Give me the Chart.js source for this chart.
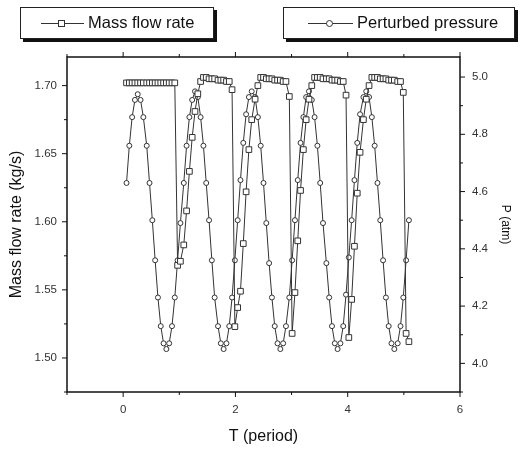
<!DOCTYPE html>
<html>
<head>
<meta charset="utf-8">
<script src="https://cdn.jsdelivr.net/npm/chart.js"></script>
<style>
  body { margin: 0; background: #fff; }
  #wrap { position: relative; width: 528px; height: 450px; font-family: "Liberation Sans", Arial, sans-serif; }
  #chart { position: absolute; left: 0; top: 0; }
  .lg { position: absolute; top: 7px; height: 30px; border: 1px solid #222; background: #fff; box-shadow: 3px 3px 0 #111; }
  .lg .ln { position: absolute; top: 15px; height: 0; border-top: 1px solid #333; }
  .lg .sq { position: absolute; top: 12px; width: 5px; height: 5px; border: 1px solid #333; background: #fff; }
  .lg .ci { position: absolute; top: 12px; width: 5px; height: 5px; border: 1px solid #333; border-radius: 50%; background: #fff; }
  .lg .tx { position: absolute; top: 5px; font-size: 16.5px; color: #111; white-space: nowrap; }
</style>
</head>
<body>
<div id="wrap">
  <canvas id="chart" width="528" height="450"></canvas>
  <div class="lg" style="left:20px;width:192px;">
    <div class="ln" style="left:20px;width:43px;"></div>
    <div class="sq" style="left:37px;"></div>
    <div class="tx" style="left:67px;">Mass flow rate</div>
  </div>
  <div class="lg" style="left:283px;width:230px;">
    <div class="ln" style="left:24px;width:45px;"></div>
    <div class="ci" style="left:42px;"></div>
    <div class="tx" style="left:73px;">Perturbed pressure</div>
  </div>
</div>
<script>
// T (period) of each sample
const T = [
  0.06, 0.11, 0.16, 0.21, 0.26, 0.31, 0.36, 0.42, 0.47, 0.52, 0.57, 0.62, 0.67, 0.72, 0.77, 0.82, 0.87, 0.92, 0.97, 1.02,
  1.08, 1.13, 1.18, 1.23, 1.28, 1.33, 1.38, 1.43, 1.48, 1.53, 1.58, 1.63, 1.69, 1.74, 1.79, 1.84, 1.89, 1.94, 1.99, 2.04,
  2.09, 2.14, 2.19, 2.24, 2.29, 2.35, 2.40, 2.45, 2.50, 2.55, 2.60, 2.65, 2.70, 2.75, 2.80, 2.85, 2.90, 2.96, 3.01, 3.06,
  3.11, 3.16, 3.21, 3.26, 3.31, 3.36, 3.41, 3.46, 3.51, 3.56, 3.62, 3.67, 3.72, 3.77, 3.82, 3.87, 3.92, 3.97, 4.02, 4.07,
  4.12, 4.17, 4.22, 4.28, 4.33, 4.38, 4.43, 4.48, 4.53, 4.58, 4.63, 4.68, 4.73, 4.78, 4.83, 4.89, 4.94, 4.99, 5.04, 5.09
];

// mass flow rate (kg/s)
const massFlow = [
  1.702, 1.702, 1.702, 1.702, 1.702, 1.702, 1.702, 1.702, 1.702, 1.702, 1.702, 1.702, 1.702, 1.702, 1.702, 1.702, 1.702, 1.702, 1.568, 1.571,
  1.583, 1.608, 1.637, 1.662, 1.681, 1.694, 1.703, 1.706, 1.706, 1.705, 1.705, 1.705, 1.704, 1.704, 1.704, 1.703, 1.703, 1.697, 1.523, 1.537,
  1.549, 1.584, 1.622, 1.653, 1.675, 1.690, 1.700, 1.706, 1.706, 1.705, 1.705, 1.705, 1.704, 1.704, 1.704, 1.703, 1.703, 1.692, 1.518, 1.548,
  1.586, 1.623, 1.653, 1.675, 1.690, 1.700, 1.706, 1.706, 1.706, 1.705, 1.705, 1.705, 1.704, 1.704, 1.704, 1.703, 1.703, 1.693, 1.515, 1.543,
  1.582, 1.621, 1.651, 1.675, 1.690, 1.700, 1.706, 1.706, 1.706, 1.705, 1.705, 1.705, 1.704, 1.704, 1.704, 1.703, 1.703, 1.695, 1.518, 1.512
];

// perturbed pressure (atm)
const pressure = [
  4.63, 4.76, 4.86, 4.92, 4.94, 4.92, 4.86, 4.76, 4.63, 4.50, 4.36, 4.23, 4.13, 4.07, 4.05, 4.07, 4.13, 4.23, 4.36, 4.49,
  4.63, 4.76, 4.86, 4.92, 4.95, 4.93, 4.86, 4.76, 4.63, 4.50, 4.36, 4.23, 4.13, 4.07, 4.05, 4.07, 4.13, 4.23, 4.36, 4.50,
  4.64, 4.77, 4.87, 4.93, 4.95, 4.93, 4.86, 4.76, 4.63, 4.49, 4.35, 4.23, 4.13, 4.07, 4.05, 4.07, 4.13, 4.23, 4.36, 4.50,
  4.64, 4.77, 4.86, 4.93, 4.95, 4.92, 4.86, 4.76, 4.63, 4.49, 4.35, 4.23, 4.13, 4.07, 4.05, 4.07, 4.13, 4.24, 4.37, 4.50,
  4.64, 4.77, 4.87, 4.93, 4.95, 4.93, 4.86, 4.76, 4.63, 4.50, 4.36, 4.23, 4.13, 4.07, 4.05, 4.07, 4.13, 4.23, 4.36, 4.50
];

const tTicks = [0, 2, 4, 6];
const massTicks = [1.50, 1.55, 1.60, 1.65, 1.70];
const pressTicks = [4.0, 4.2, 4.4, 4.6, 4.8, 5.0];

const tickFont = { family: '"Liberation Sans", Arial, sans-serif', size: 11.5 };
const titleFont = { family: '"Liberation Sans", Arial, sans-serif', size: 16, lineHeight: 1 };

// frame + inward/outward tick marks like the original plot
const framePlugin = {
  id: 'frame',
  afterDraw(chart) {
    const { ctx, chartArea: a, scales } = chart;
    ctx.save();
    ctx.strokeStyle = '#111';
    ctx.lineWidth = 1.5;
    ctx.strokeRect(a.left, a.top, a.right - a.left, a.bottom - a.top);
    ctx.lineWidth = 1;
    ctx.beginPath();
    for (let v = -1; v <= 6; v++) {
      const px = scales.x.getPixelForValue(v);
      const len = v % 2 === 0 ? 5 : 3;
      ctx.moveTo(px, a.bottom); ctx.lineTo(px, a.bottom + len);
      ctx.moveTo(px, a.top); ctx.lineTo(px, a.top - len);
    }
    for (let v = 1.475; v < 1.72; v += 0.025) {
      const py = scales.y.getPixelForValue(v);
      const major = Math.abs(Math.round(v * 20) - v * 20) < 0.01;
      ctx.moveTo(a.left, py); ctx.lineTo(a.left - (major ? 5 : 3), py);
    }
    for (let v = 3.9; v < 5.06; v += 0.1) {
      const py = scales.y1.getPixelForValue(v);
      const major = Math.abs(Math.round(v * 5) - v * 5) < 0.01;
      ctx.moveTo(a.right, py); ctx.lineTo(a.right + (major ? 5 : 3), py);
    }
    ctx.stroke();
    ctx.restore();
  }
};

const ctx = document.getElementById('chart').getContext('2d');
new Chart(ctx, {
  type: 'line',
  data: {
    datasets: [{
      label: 'Mass flow rate',
      data: T.map((t, i) => ({ x: t, y: massFlow[i] })),
      yAxisID: 'y',
      borderColor: '#333',
      borderWidth: 1,
      pointStyle: 'rect',
      pointRadius: 4,
      pointBackgroundColor: '#fff',
      pointBorderColor: '#333',
      pointBorderWidth: 1,
      tension: 0
    }, {
      label: 'Perturbed pressure',
      data: T.map((t, i) => ({ x: t, y: pressure[i] })),
      yAxisID: 'y1',
      borderColor: '#333',
      borderWidth: 1,
      pointStyle: 'circle',
      pointRadius: 2.5,
      pointBackgroundColor: '#fff',
      pointBorderColor: '#333',
      pointBorderWidth: 1,
      tension: 0
    }]
  },
  options: {
    responsive: false,
    animation: false,
    layout: { padding: { top: 57, left: 0, right: 0, bottom: 0 } },
    plugins: { legend: { display: false }, tooltip: { enabled: false } },
    scales: {
      x: {
        type: 'linear',
        min: -1, max: 6,
        afterBuildTicks: s => { s.ticks = tTicks.map(v => ({ value: v })); },
        afterFit: s => { s.height = 58; },
        grid: { display: false, drawTicks: false },
        border: { display: false },
        ticks: { font: tickFont, color: '#333', padding: 11, maxRotation: 0 },
        title: { display: true, text: 'T (period)', font: titleFont, color: '#111', padding: { top: 0, bottom: 5 } }
      },
      y: {
        position: 'left',
        min: 1.475, max: 1.721,
        afterBuildTicks: s => { s.ticks = massTicks.map(v => ({ value: v })); },
        afterFit: s => { s.width = 67; },
        grid: { display: false, drawTicks: false },
        border: { display: false },
        ticks: { font: tickFont, color: '#333', padding: 10, callback: v => v.toFixed(2) },
        title: { display: true, text: 'Mass flow rate (kg/s)', font: titleFont, color: '#111', padding: { top: 9, bottom: 0 } }
      },
      y1: {
        position: 'right',
        min: 3.9, max: 5.07,
        afterBuildTicks: s => { s.ticks = pressTicks.map(v => ({ value: v })); },
        afterFit: s => { s.width = 68; },
        grid: { display: false, drawTicks: false },
        border: { display: false },
        ticks: { font: tickFont, color: '#333', padding: 12, callback: v => v.toFixed(1) },
        title: { display: true, text: 'P (atm)', font: { family: titleFont.family, size: 12, lineHeight: 1 }, color: '#111', padding: { top: 17, bottom: 0 } }
      }
    }
  },
  plugins: [framePlugin]
});
</script>
</body>
</html>
